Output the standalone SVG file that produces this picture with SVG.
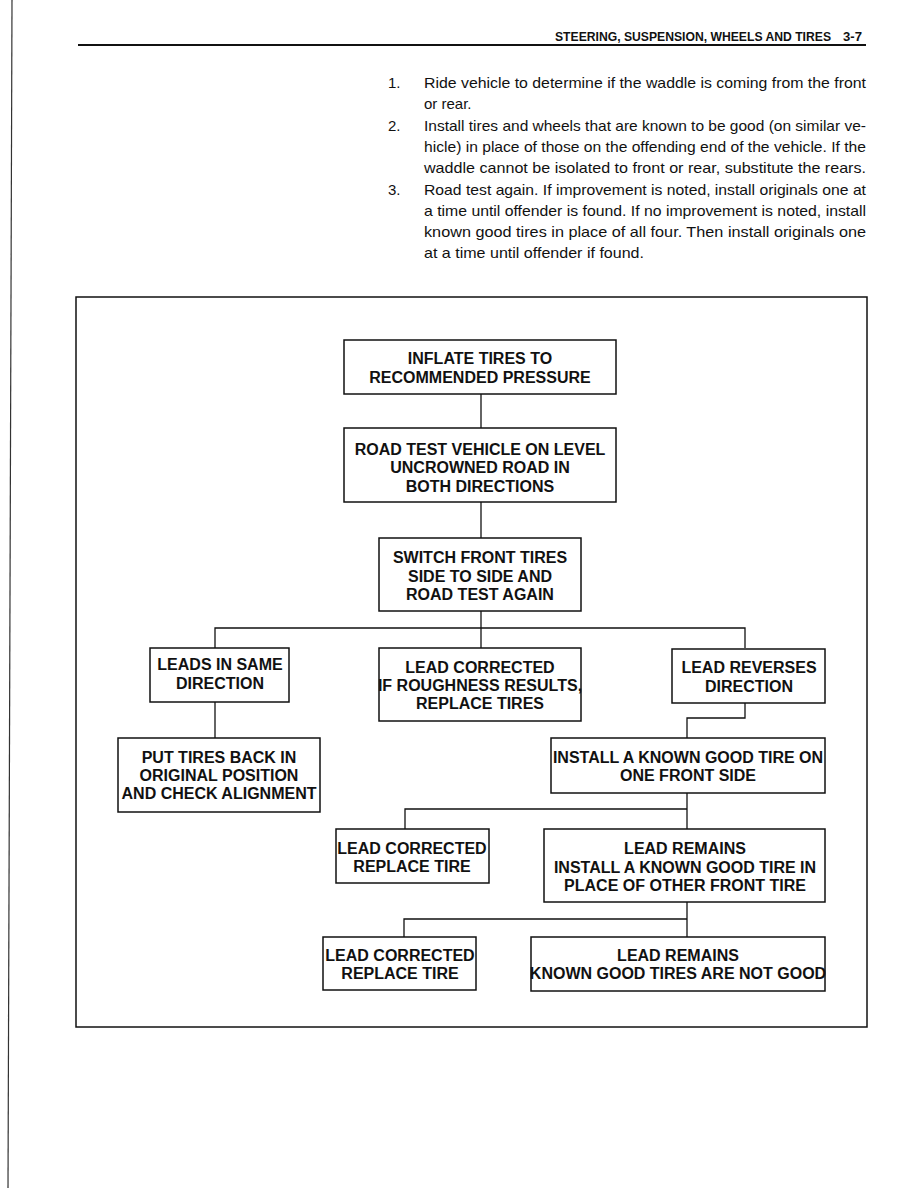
<svg xmlns="http://www.w3.org/2000/svg" width="918" height="1188" viewBox="0 0 918 1188">
<style>
.bx{fill:#fff;stroke:#111;stroke-width:1.5}
.cn{fill:none;stroke:#111;stroke-width:1.3}
.t{font-family:"Liberation Sans",Arial,sans-serif;font-weight:bold;font-size:16px;fill:#111;text-anchor:middle}
.p{font-family:"Liberation Sans",Arial,sans-serif;font-size:15px;fill:#111}
.h{font-family:"Liberation Sans",Arial,sans-serif;font-weight:bold;font-size:12.5px;fill:#111}
</style>
<rect width="918" height="1188" fill="#fff"/>
<line x1="12" y1="0" x2="8" y2="1188" stroke="#333" stroke-width="1.2"/>
<g id="header">
<text class="h" x="555" y="41" textLength="276" lengthAdjust="spacingAndGlyphs">STEERING, SUSPENSION, WHEELS AND TIRES</text>
<text class="h" x="843" y="41" textLength="19" lengthAdjust="spacingAndGlyphs">3-7</text>
<line x1="78" y1="45" x2="866" y2="45" stroke="#111" stroke-width="2"/>
</g>
<g id="paragraph">
<text class="p" x="388" y="88">1.</text>
<text class="p" x="424" y="88" textLength="442" lengthAdjust="spacingAndGlyphs">Ride vehicle to determine if the waddle is coming from the front</text>
<text class="p" x="424" y="109">or rear.</text>
<text class="p" x="388" y="131">2.</text>
<text class="p" x="424" y="131" textLength="442" lengthAdjust="spacingAndGlyphs">Install tires and wheels that are known to be good (on similar ve-</text>
<text class="p" x="424" y="152" textLength="442" lengthAdjust="spacingAndGlyphs">hicle) in place of those on the offending end of the vehicle. If the</text>
<text class="p" x="424" y="173" textLength="442" lengthAdjust="spacingAndGlyphs">waddle cannot be isolated to front or rear, substitute the rears.</text>
<text class="p" x="388" y="195">3.</text>
<text class="p" x="424" y="195" textLength="442" lengthAdjust="spacingAndGlyphs">Road test again. If improvement is noted, install originals one at</text>
<text class="p" x="424" y="216" textLength="442" lengthAdjust="spacingAndGlyphs">a time until offender is found. If no improvement is noted, install</text>
<text class="p" x="424" y="237" textLength="442" lengthAdjust="spacingAndGlyphs">known good tires in place of all four. Then install originals one</text>
<text class="p" x="424" y="258" textLength="220" lengthAdjust="spacingAndGlyphs">at a time until offender if found.</text>
</g>
<rect id="frame" x="76" y="297" width="791" height="730" fill="none" stroke="#111" stroke-width="1.5"/>
<g id="connectors">
<path class="cn" d="M481 394V428"/>
<path class="cn" d="M481 502V538"/>
<path class="cn" d="M481 611V648"/>
<path class="cn" d="M215 648V628H745V648"/>
<path class="cn" d="M215 702V738"/>
<path class="cn" d="M745 703V718H687V738"/>
<path class="cn" d="M687 793V829"/>
<path class="cn" d="M405 829V809H687"/>
<path class="cn" d="M687 902V937"/>
<path class="cn" d="M404 937V919H687"/>
</g>
<g id="n1"><rect class="bx" x="344" y="340" width="272" height="54"/>
<text class="t" x="480" y="364">INFLATE TIRES TO</text><text class="t" x="480" y="383">RECOMMENDED PRESSURE</text></g>
<g id="n2"><rect class="bx" x="344" y="428" width="272" height="74"/>
<text class="t" x="480" y="455">ROAD TEST VEHICLE ON LEVEL</text><text class="t" x="480" y="473">UNCROWNED ROAD IN</text><text class="t" x="480" y="492">BOTH DIRECTIONS</text></g>
<g id="n3"><rect class="bx" x="379" y="538" width="202" height="73"/>
<text class="t" x="480" y="563">SWITCH FRONT TIRES</text><text class="t" x="480" y="582">SIDE TO SIDE AND</text><text class="t" x="480" y="600">ROAD TEST AGAIN</text></g>
<g id="n4"><rect class="bx" x="150" y="648" width="139" height="54"/>
<text class="t" x="220" y="670">LEADS IN SAME</text><text class="t" x="220" y="689">DIRECTION</text></g>
<g id="n5"><rect class="bx" x="379" y="648" width="202" height="73"/>
<text class="t" x="480" y="673">LEAD CORRECTED</text><text class="t" x="480" y="691">IF ROUGHNESS RESULTS,</text><text class="t" x="480" y="709">REPLACE TIRES</text></g>
<g id="n6"><rect class="bx" x="672" y="649" width="153" height="54"/>
<text class="t" x="749" y="673">LEAD REVERSES</text><text class="t" x="749" y="692">DIRECTION</text></g>
<g id="n7"><rect class="bx" x="118" y="738" width="202" height="74"/>
<text class="t" x="219" y="763">PUT TIRES BACK IN</text><text class="t" x="219" y="781">ORIGINAL POSITION</text><text class="t" x="219" y="799">AND CHECK ALIGNMENT</text></g>
<g id="n8"><rect class="bx" x="551" y="738" width="274" height="55"/>
<text class="t" x="688" y="763">INSTALL A KNOWN GOOD TIRE ON</text><text class="t" x="688" y="781">ONE FRONT SIDE</text></g>
<g id="n9"><rect class="bx" x="336" y="829" width="153" height="54"/>
<text class="t" x="412" y="854">LEAD CORRECTED</text><text class="t" x="412" y="872">REPLACE TIRE</text></g>
<g id="n10"><rect class="bx" x="544" y="829" width="281" height="73"/>
<text class="t" x="685" y="854">LEAD REMAINS</text><text class="t" x="685" y="873">INSTALL A KNOWN GOOD TIRE IN</text><text class="t" x="685" y="891">PLACE OF OTHER FRONT TIRE</text></g>
<g id="n11"><rect class="bx" x="323" y="937" width="153" height="53"/>
<text class="t" x="400" y="961">LEAD CORRECTED</text><text class="t" x="400" y="979">REPLACE TIRE</text></g>
<g id="n12"><rect class="bx" x="531" y="937" width="294" height="54"/>
<text class="t" x="678" y="961">LEAD REMAINS</text><text class="t" x="678" y="979">KNOWN GOOD TIRES ARE NOT GOOD</text></g>
</svg>
